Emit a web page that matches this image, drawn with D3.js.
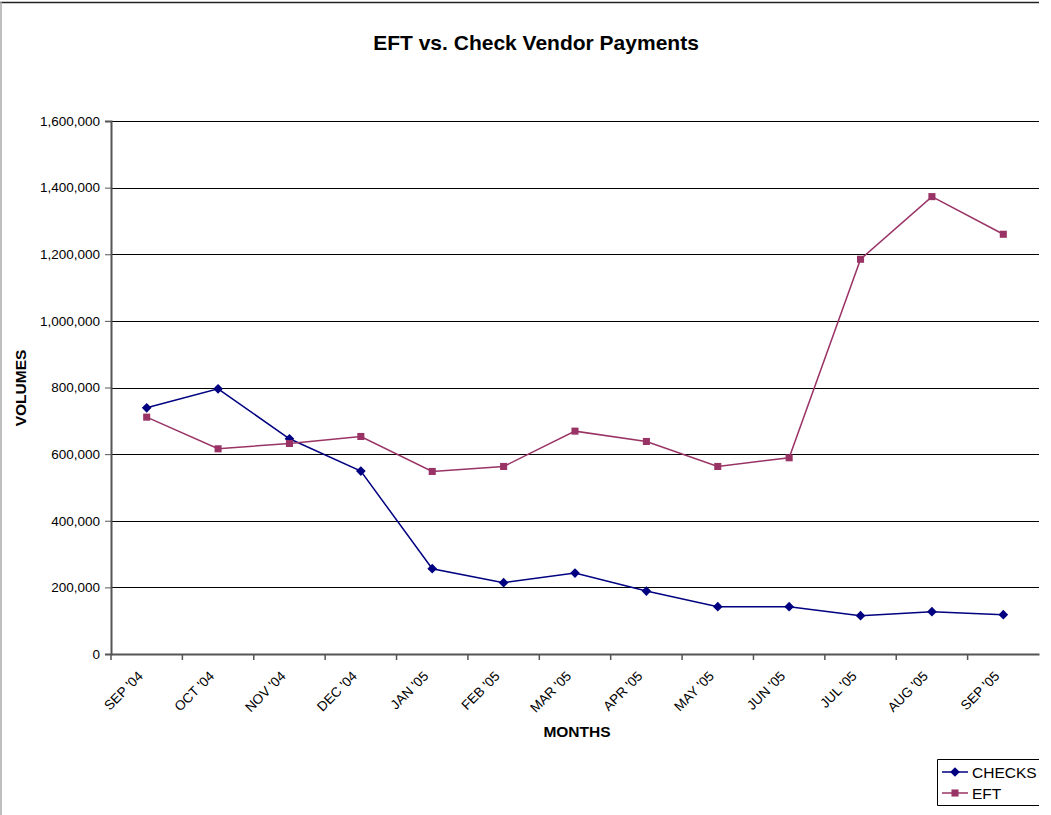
<!DOCTYPE html>
<html>
<head>
<meta charset="utf-8">
<script src="https://cdn.jsdelivr.net/npm/d3@7"></script>
<style>
  body { margin: 0; background: #fff; }
  svg { display: block; font-family: "Liberation Sans", Arial, sans-serif; }
</style>
</head>
<body>
<div id="chart"></div>
<script>
// data
const months = ["SEP '04", "OCT '04", "NOV '04", "DEC '04", "JAN '05", "FEB '05", "MAR '05",
                "APR '05", "MAY '05", "JUN '05", "JUL '05", "AUG '05", "SEP '05"];
const checks = [739000, 796000, 646000, 549000, 256000, 214000, 243000, 189000, 142000, 142000, 115000, 127000, 118000];
const eft = [711000, 616000, 632000, 653000, 548000, 563000, 669000, 638000, 563000, 589000, 1185000, 1373000, 1260000];
const yTicks = [0, 200000, 400000, 600000, 800000, 1000000, 1200000, 1400000, 1600000];

const width = 1051;
const height = 815;
const margin = { top: 121, left: 111, bottom: 161, right: 12 };
const iwidth = width - margin.left - margin.right;
const iheight = height - margin.top - margin.bottom;

const svg = d3.select("#chart").append("svg")
    .attr("width", width)
    .attr("height", height);

// chart frame (cropped on the right and bottom)
svg.append("line").attr("x1", 0).attr("x2", 1039).attr("y1", 2.5).attr("y2", 2.5)
    .attr("stroke", "#222").attr("stroke-width", 1.5);
svg.append("line").attr("x1", 1).attr("x2", 1).attr("y1", 2).attr("y2", height)
    .attr("stroke", "#aaa").attr("stroke-width", 1.5);

svg.append("text")
    .attr("x", 536).attr("y", 50)
    .attr("text-anchor", "middle")
    .style("font-size", "21px").style("font-weight", "bold")
    .text("EFT vs. Check Vendor Payments");

const g = svg.append("g").attr("transform", `translate(${margin.left},${margin.top})`);

const x = d3.scaleBand().domain(months).range([0, iwidth]);
const y = d3.scaleLinear().domain([0, 1600000]).range([iheight, 0]);

// gridlines
g.append("g")
    .selectAll("line")
    .data(yTicks.slice(1))
    .enter().append("line")
    .attr("x1", 0).attr("x2", iwidth)
    .attr("y1", d => Math.round(y(d)) + 0.5).attr("y2", d => Math.round(y(d)) + 0.5)
    .attr("stroke", "#000").attr("stroke-width", 1);

// y axis
const yAxis = g.append("g")
    .call(d3.axisLeft(y).tickValues(yTicks).tickSize(6).tickPadding(5).tickFormat(d3.format(",")));
yAxis.select(".domain").attr("stroke", "#555").attr("stroke-width", 2);
yAxis.selectAll(".tick line").attr("stroke", "#555");
yAxis.selectAll("text").style("font-size", "13.5px").attr("fill", "#000");

// x axis: ticks on band boundaries, labels at band centres
const xAxis = g.append("g")
    .attr("transform", `translate(0,${iheight})`)
    .call(d3.axisBottom(x).tickSize(0).tickFormat(""));
xAxis.select(".domain").attr("stroke", "#555").attr("stroke-width", 2);
xAxis.selectAll(".tick").remove();

xAxis.selectAll(".bound")
    .data(months)
    .enter().append("line")
    .attr("class", "bound")
    .attr("x1", d => x(d)).attr("x2", d => x(d))
    .attr("y1", 0).attr("y2", 6)
    .attr("stroke", "#555").attr("stroke-width", 1.5);

xAxis.selectAll(".lbl")
    .data(months)
    .enter().append("text")
    .attr("class", "lbl")
    .attr("text-anchor", "end")
    .attr("transform", d => `translate(${x(d) + x.bandwidth() / 2 - 3},${23}) rotate(-45)`)
    .style("font-size", "13.5px")
    .attr("fill", "#000")
    .text(d => d);

// axis titles
svg.append("text")
    .attr("transform", `translate(26,388) rotate(-90)`)
    .attr("text-anchor", "middle")
    .style("font-size", "15.5px").style("font-weight", "bold")
    .text("VOLUMES");

svg.append("text")
    .attr("x", 577).attr("y", 737)
    .attr("text-anchor", "middle")
    .style("font-size", "15.5px").style("font-weight", "bold")
    .text("MONTHS");

// series
const series = [
    { name: "CHECKS", values: checks, color: "#000080", shape: d3.symbolDiamond2, size: 60 },
    { name: "EFT", values: eft, color: "#993366", shape: d3.symbolSquare, size: 50 }
];

const line = d3.line()
    .x((d, i) => x(months[i]) + x.bandwidth() / 2)
    .y(d => y(d));

series.forEach(s => {
    g.append("path")
        .datum(s.values)
        .attr("fill", "none")
        .attr("stroke", s.color)
        .attr("stroke-width", 1.5)
        .attr("d", line);

    g.selectAll(".m-" + s.name)
        .data(s.values)
        .enter().append("path")
        .attr("class", "m-" + s.name)
        .attr("d", d3.symbol().type(s.shape).size(s.size))
        .attr("transform", (d, i) => `translate(${x(months[i]) + x.bandwidth() / 2},${y(d)})`)
        .attr("fill", s.color);
});

// legend (its right side is cut off by the picture edge, as in the original)
const legend = svg.append("g").attr("transform", "translate(937,759)");
legend.append("path")
    .attr("d", "M102,0.5 H0.5 V46.5 H102")
    .attr("fill", "none").attr("stroke", "#000").attr("stroke-width", 1);

series.forEach((s, i) => {
    const ly = 13 + i * 21;
    legend.append("line")
        .attr("x1", 5).attr("x2", 31).attr("y1", ly).attr("y2", ly)
        .attr("stroke", s.color).attr("stroke-width", 1.5);
    legend.append("path")
        .attr("d", d3.symbol().type(s.shape).size(s.size))
        .attr("transform", `translate(18,${ly})`)
        .attr("fill", s.color);
    legend.append("text")
        .attr("x", 35).attr("y", ly + 5.5)
        .style("font-size", "15.5px")
        .text(s.name);
});
</script>
</body>
</html>
